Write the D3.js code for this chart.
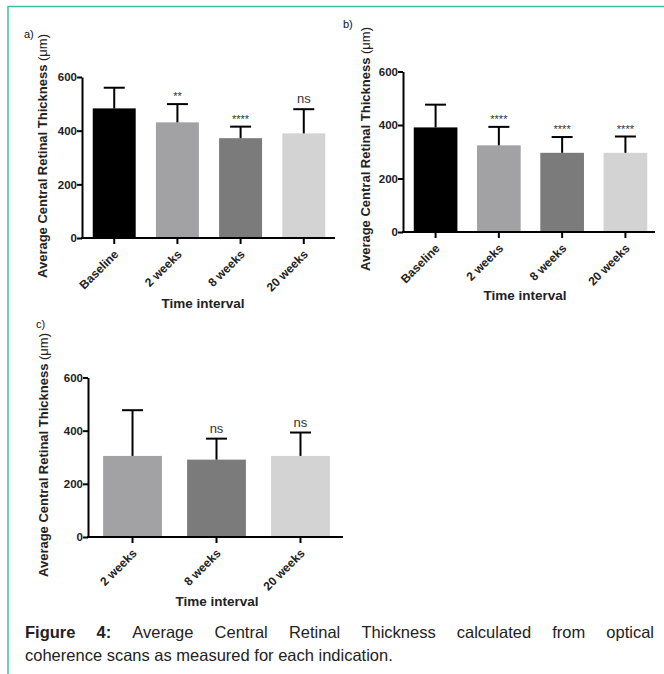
<!DOCTYPE html>
<html>
<head>
<meta charset="utf-8">
<script src="https://cdn.jsdelivr.net/npm/d3@7"></script>
<style>
  body { margin: 0; background: #fff; }
  svg { display: block; font-family: Arial, "Liberation Sans", sans-serif; }
</style>
</head>
<body>
<div id="chart"></div>
<script>
// panel a
const catsA = ['Baseline', '2 weeks', '8 weeks', '20 weeks'];
const meanA = [483, 431, 372, 390];
const errA = [560, 499, 415, 480];
const sigA = ['', '**', '****', 'ns'];

// panel b
const catsB = ['Baseline', '2 weeks', '8 weeks', '20 weeks'];
const meanB = [391, 324, 296, 296];
const errB = [476, 393, 355, 357];
const sigB = ['', '****', '****', '****'];

// panel c
const catsC = ['2 weeks', '8 weeks', '20 weeks'];
const meanC = [305, 291, 305];
const errC = [477, 370, 393];
const sigC = ['', 'ns', 'ns'];

const yTicks = [0, 200, 400, 600];
const barColor = {
    'Baseline': '#000000',
    '2 weeks': '#a2a2a5',
    '8 weeks': '#7b7b7c',
    '20 weeks': '#d3d3d3'
};

const width = 664, height = 674;
const svg = d3.select('#chart').append('svg')
              .attr('width', width)
              .attr('height', height);

// teal frame (top + left)
svg.append('path')
   .attr('d', 'M8,674 L8,6.5 L664,6.5')
   .attr('fill', 'none')
   .attr('stroke', '#3cbfa6')
   .attr('stroke-width', 1.5);

function panel(cfg) {
    const {cats, mean, err, sig} = cfg;
    const g = svg.append('g');

    const x = d3.scaleBand()
                .domain(cats)
                .range([cfg.x0, cfg.x1])
                .paddingInner(cfg.pi)
                .paddingOuter(cfg.po);

    const y = d3.scaleLinear()
                .domain([0, 600])
                .range([cfg.y0, cfg.y600]);

    const data = cats.map((c, i) => ({c, m: mean[i], e: err[i], s: sig[i]}));

    g.selectAll('rect.bar')
     .data(data)
     .enter().append('rect')
     .attr('class', 'bar')
     .attr('x', d => x(d.c))
     .attr('width', x.bandwidth())
     .attr('y', d => y(d.m))
     .attr('height', d => y(0) - y(d.m))
     .attr('fill', d => barColor[d.c]);

    // error bars (upper only)
    const eb = g.selectAll('g.err')
                .data(data)
                .enter().append('g')
                .attr('class', 'err')
                .attr('stroke', '#000')
                .attr('stroke-width', 2);
    eb.append('line')
      .attr('x1', d => x(d.c) + x.bandwidth() / 2)
      .attr('x2', d => x(d.c) + x.bandwidth() / 2)
      .attr('y1', d => y(d.m))
      .attr('y2', d => y(d.e));
    eb.append('line')
      .attr('x1', d => x(d.c) + x.bandwidth() / 2 - cfg.cap / 2)
      .attr('x2', d => x(d.c) + x.bandwidth() / 2 + cfg.cap / 2)
      .attr('y1', d => y(d.e))
      .attr('y2', d => y(d.e));

    // significance marks
    g.selectAll('text.sig')
     .data(data.filter(d => d.s))
     .enter().append('text')
     .attr('class', 'sig')
     .attr('x', d => x(d.c) + x.bandwidth() / 2)
     .attr('y', d => y(d.e) - (d.s === 'ns' ? 6 : 4))
     .attr('text-anchor', 'middle')
     .attr('font-size', d => d.s === 'ns' ? 13 : 11)
     .attr('fill', '#333')
     .text(d => d.s);

    // y axis
    const ya = g.append('g')
                .attr('transform', `translate(${cfg.x0},0)`)
                .call(d3.axisLeft(y).tickValues(yTicks).tickSize(5).tickSizeOuter(0));
    ya.select('.domain').attr('stroke-width', 2);
    ya.selectAll('.tick line').attr('stroke-width', 2);
    ya.selectAll('.tick text')
      .attr('font-size', 11.5)
      .attr('font-weight', 'bold')
      .attr('font-family', 'Arial, "Liberation Sans", sans-serif')
      .attr('fill', '#222')
      .attr('x', -5);

    // x axis
    const xa = g.append('g')
                .attr('transform', `translate(0,${cfg.y0})`)
                .call(d3.axisBottom(x).tickSize(6).tickSizeOuter(0));
    xa.select('.domain').remove();
    xa.append('line')
      .attr('x1', cfg.x0 - 1)
      .attr('x2', cfg.axisEnd)
      .attr('stroke', '#000')
      .attr('stroke-width', 2);
    xa.selectAll('.tick line').attr('stroke-width', 2);
    xa.selectAll('.tick text')
      .attr('font-size', 12)
      .attr('font-weight', 'bold')
      .attr('font-family', 'Arial, "Liberation Sans", sans-serif')
      .attr('fill', '#222')
      .attr('text-anchor', 'end')
      .attr('y', 0)
      .attr('dy', 0)
      .attr('transform', 'translate(5,17) rotate(-45)');

    // axis titles
    const yt = g.append('text')
                .attr('transform', `translate(${cfg.ytX},${cfg.ytY}) rotate(-90)`)
                .attr('text-anchor', 'middle')
                .attr('font-size', 13)
                .attr('font-weight', 'bold')
                .attr('fill', '#222');
    yt.append('tspan').text('Average Central Retinal Thickness ');
    yt.append('tspan').attr('font-weight', 'normal').text('(\u03bcm)');

    g.append('text')
     .attr('x', cfg.xtX)
     .attr('y', cfg.xtY)
     .attr('text-anchor', 'middle')
     .attr('font-size', 13.5)
     .attr('font-weight', 'bold')
     .attr('fill', '#222')
     .text('Time interval');

    g.append('text')
     .attr('x', cfg.lx)
     .attr('y', cfg.ly)
     .attr('font-size', 11)
     .attr('fill', '#111')
     .text(cfg.label);
}

panel({cats: catsA, mean: meanA, err: errA, sig: sigA,
       x0: 82, x1: 336, pi: 0.32, po: 0.17, axisEnd: 335,
       y0: 238, y600: 77, cap: 21,
       ytX: 47, ytY: 156, xtX: 203, xtY: 308, lx: 24, ly: 38, label: 'a)'});

panel({cats: catsB, mean: meanB, err: errB, sig: sigB,
       x0: 403, x1: 658, pi: 0.31, po: 0.17, axisEnd: 655,
       y0: 232, y600: 71.5, cap: 21,
       ytX: 370, ytY: 149, xtX: 525, xtY: 300, lx: 343, ly: 28, label: 'b)'});

panel({cats: catsC, mean: meanC, err: errC, sig: sigC,
       x0: 88, x1: 345, pi: 0.30, po: 0.18, axisEnd: 343,
       y0: 537, y600: 377.5, cap: 21,
       ytX: 48, ytY: 455, xtX: 217, xtY: 606, lx: 36, ly: 328, label: 'c)'});

// caption, first line justified
const capL = 25, capR = 654;
const line1 = ['Figure', '4:', 'Average', 'Central', 'Retinal', 'Thickness', 'calculated', 'from', 'optical'];
const cap = svg.append('g')
               .attr('font-size', 16.5)
               .attr('fill', '#222');
const words = cap.selectAll('text.w')
                 .data(line1)
                 .enter().append('text')
                 .attr('class', 'w')
                 .attr('y', 638)
                 .attr('font-weight', (d, i) => i < 2 ? 'bold' : 'normal')
                 .text(d => d);
const widths = [];
words.each(function () { widths.push(this.getComputedTextLength()); });
const gap = (capR - capL - d3.sum(widths)) / (line1.length - 1);
let cx = capL;
words.attr('x', (d, i) => {
    const p = cx;
    cx += widths[i] + gap;
    return p;
});
cap.append('text')
   .attr('x', capL)
   .attr('y', 661)
   .text('coherence scans as measured for each indication.');
</script>
</body>
</html>
